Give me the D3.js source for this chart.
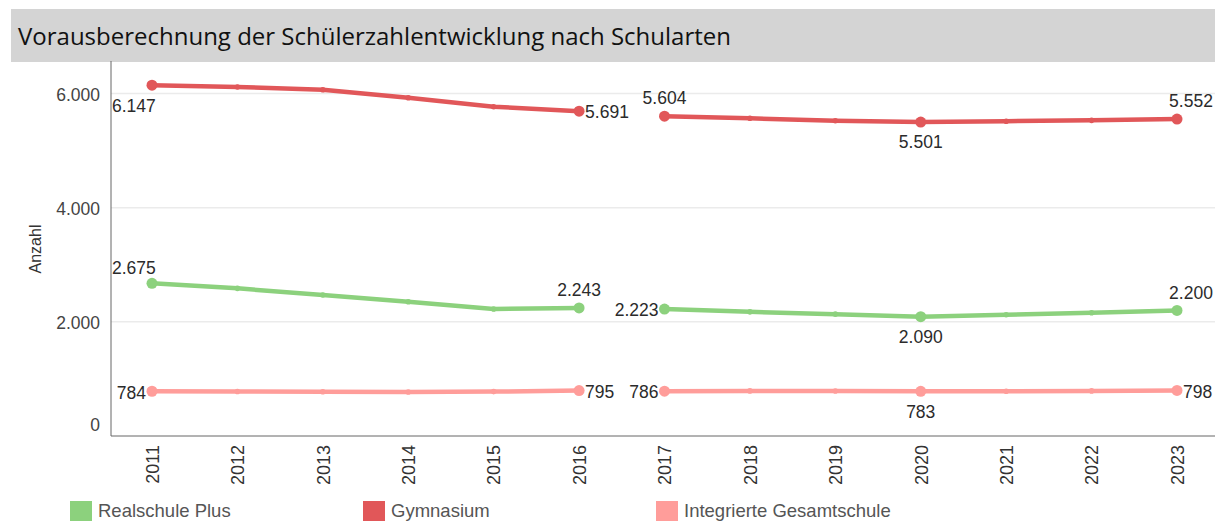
<!DOCTYPE html>
<html>
<head>
<meta charset="utf-8">
<script src="https://cdn.jsdelivr.net/npm/d3@7"></script>
<style>
  body { margin: 0; background: #fff; }
  svg { display: block; font-family: "Liberation Sans", Arial, sans-serif; }
</style>
</head>
<body>
<svg width="1217" height="521"></svg>
<script>
var years = [2011, 2012, 2013, 2014, 2015, 2016, 2017, 2018, 2019, 2020, 2021, 2022, 2023];
var realschule = [2675, 2587, 2470, 2353, 2225, 2243, 2223, 2175, 2135, 2090, 2125, 2160, 2200];
var gymnasium = [6147, 6114, 6067, 5927, 5769, 5691, 5604, 5566, 5524, 5501, 5515, 5530, 5552];
var igs = [784, 780, 776, 772, 778, 795, 786, 790, 788, 783, 785, 790, 798];
var seriesNames = ["Realschule Plus", "Gymnasium", "Integrierte Gesamtschule"];
var yTicks = [0, 2000, 4000, 6000];
// two separate pieces of line: 2011-2016 and 2017-2023
var pieces = [[2011, 2016], [2017, 2023]];
var labelledYears = [2011, 2016, 2017, 2020, 2023];

var colors = ["#8cd17d", "#e15759", "#ff9d9a"];
// where each value label sits, one per labelled year
var labelPlace = [
  ["aboveStart", "above", "left", "below", "aboveShift"],
  ["belowStart", "right", "above", "below", "aboveShift"],
  ["left", "right", "left", "below", "right"]
];

var svg = d3.select("svg"),
    width = +svg.attr("width"),
    height = +svg.attr("height");

var plotLeft = 111, plotRight = 1215, plotTop = 65, plotBottom = 436;

var de = d3.formatLocale({decimal: ",", thousands: ".", grouping: [3], currency: ["", "€"]});
var fmt = de.format(",d");

var x = d3.scalePoint().domain(years).range([152, 1177]);
var y = d3.scaleLinear().domain([0, 6500]).range([plotBottom, plotTop]);

// title bar
svg.append("rect")
    .attr("x", 11).attr("y", 9)
    .attr("width", 1204).attr("height", 53)
    .attr("fill", "#d4d4d4");
svg.append("text")
    .attr("x", 18).attr("y", 45)
    .attr("font-family", "'Open Sans', 'Noto Sans', sans-serif")
    .attr("font-size", 24)
    .attr("fill", "#111")
    .text("Vorausberechnung der Schülerzahlentwicklung nach Schularten");

// gridlines
svg.append("g")
    .selectAll("line")
    .data(yTicks.filter(function (d) { return d > 0; }))
    .enter().append("line")
    .attr("x1", plotLeft).attr("x2", plotRight)
    .attr("y1", function (d) { return y(d); })
    .attr("y2", function (d) { return y(d); })
    .attr("stroke", "#ebebeb")
    .attr("stroke-width", 1.5);

// y axis
var yAxis = svg.append("g")
    .attr("transform", "translate(" + plotLeft + ",0)")
    .call(d3.axisLeft(y).tickValues(yTicks).tickSize(0).tickPadding(11).tickFormat(fmt));
yAxis.select(".domain").attr("stroke", "#666").attr("d", "M0," + (plotTop - 4) + "V" + plotBottom);
yAxis.selectAll("text")
    .attr("font-size", 17.5)
    .attr("font-family", "'Liberation Sans', Arial, sans-serif")
    .attr("fill", "#444")
    .attr("dy", function (d) { return d === 0 ? "-0.3em" : "0.38em"; });

svg.append("text")
    .attr("transform", "translate(41,249) rotate(-90)")
    .attr("text-anchor", "middle")
    .attr("font-size", 16)
    .attr("fill", "#333")
    .text("Anzahl");

// x axis
var xAxis = svg.append("g")
    .attr("transform", "translate(0," + plotBottom + ")")
    .call(d3.axisBottom(x).tickSize(0).tickPadding(0));
xAxis.select(".domain").attr("stroke", "#666").attr("d", "M" + plotLeft + ",0H" + plotRight);
xAxis.selectAll("text")
    .attr("font-size", 18)
    .attr("font-family", "'Liberation Sans', Arial, sans-serif")
    .attr("fill", "#333")
    .attr("text-anchor", "end")
    .attr("transform", "rotate(-90)")
    .attr("x", -9)
    .attr("y", 0)
    .attr("dy", "0.35em");

var allSeries = [realschule, gymnasium, igs];

var line = d3.line()
    .x(function (d) { return x(d.year); })
    .y(function (d) { return y(d.value); });

allSeries.forEach(function (values, si) {
  var pts = years.map(function (yr, i) { return {year: yr, value: values[i]}; });
  var g = svg.append("g");

  pieces.forEach(function (p) {
    var seg = pts.filter(function (d) { return d.year >= p[0] && d.year <= p[1]; });
    g.append("path")
        .datum(seg)
        .attr("d", line)
        .attr("fill", "none")
        .attr("stroke", colors[si])
        .attr("stroke-width", 4.5)
        .attr("stroke-linejoin", "round")
        .attr("stroke-linecap", "round");
  });

  g.selectAll("circle")
      .data(pts)
      .enter().append("circle")
      .attr("cx", function (d) { return x(d.year); })
      .attr("cy", function (d) { return y(d.value); })
      .attr("r", function (d) { return labelledYears.indexOf(d.year) >= 0 ? 5.5 : 2.8; })
      .attr("fill", colors[si]);

  var lab = pts.filter(function (d) { return labelledYears.indexOf(d.year) >= 0; });
  g.selectAll("text")
      .data(lab)
      .enter().append("text")
      .attr("font-size", 17.5)
      .attr("fill", "#2b2b2b")
      .attr("dy", "0.36em")
      .each(function (d, i) {
        var place = labelPlace[si][i];
        var px = x(d.year), py = y(d.value);
        var t = d3.select(this).text(fmt(d.value));
        var anchor = "middle", tx = px, ty = py;
        if (place === "above") { ty = py - 18; }
        if (place === "below") { ty = py + 20; }
        if (place === "aboveShift") { ty = py - 18; tx = px + 14; }
        if (place === "aboveStart") { ty = py - 16; tx = plotLeft + 1; anchor = "start"; }
        if (place === "belowStart") { ty = py + 21; tx = plotLeft + 1; anchor = "start"; }
        if (place === "right") { tx = px + 6; anchor = "start"; ty = py + 1; }
        if (place === "left") { tx = px - 6; anchor = "end"; ty = py + 1; }
        t.attr("x", tx).attr("y", ty).attr("text-anchor", anchor);
      });
});

// legend
var legend = svg.append("g")
    .selectAll("g")
    .data(seriesNames)
    .enter().append("g")
    .attr("transform", function (d, i) { return "translate(" + (70 + i * 293) + ",501)"; });
legend.append("rect")
    .attr("width", 22).attr("height", 21)
    .attr("fill", function (d, i) { return colors[i]; });
legend.append("text")
    .attr("x", 28).attr("y", 9)
    .attr("dy", "0.36em")
    .attr("font-size", 18.5)
    .attr("fill", "#555")
    .text(function (d) { return d; });
</script>
</body>
</html>
